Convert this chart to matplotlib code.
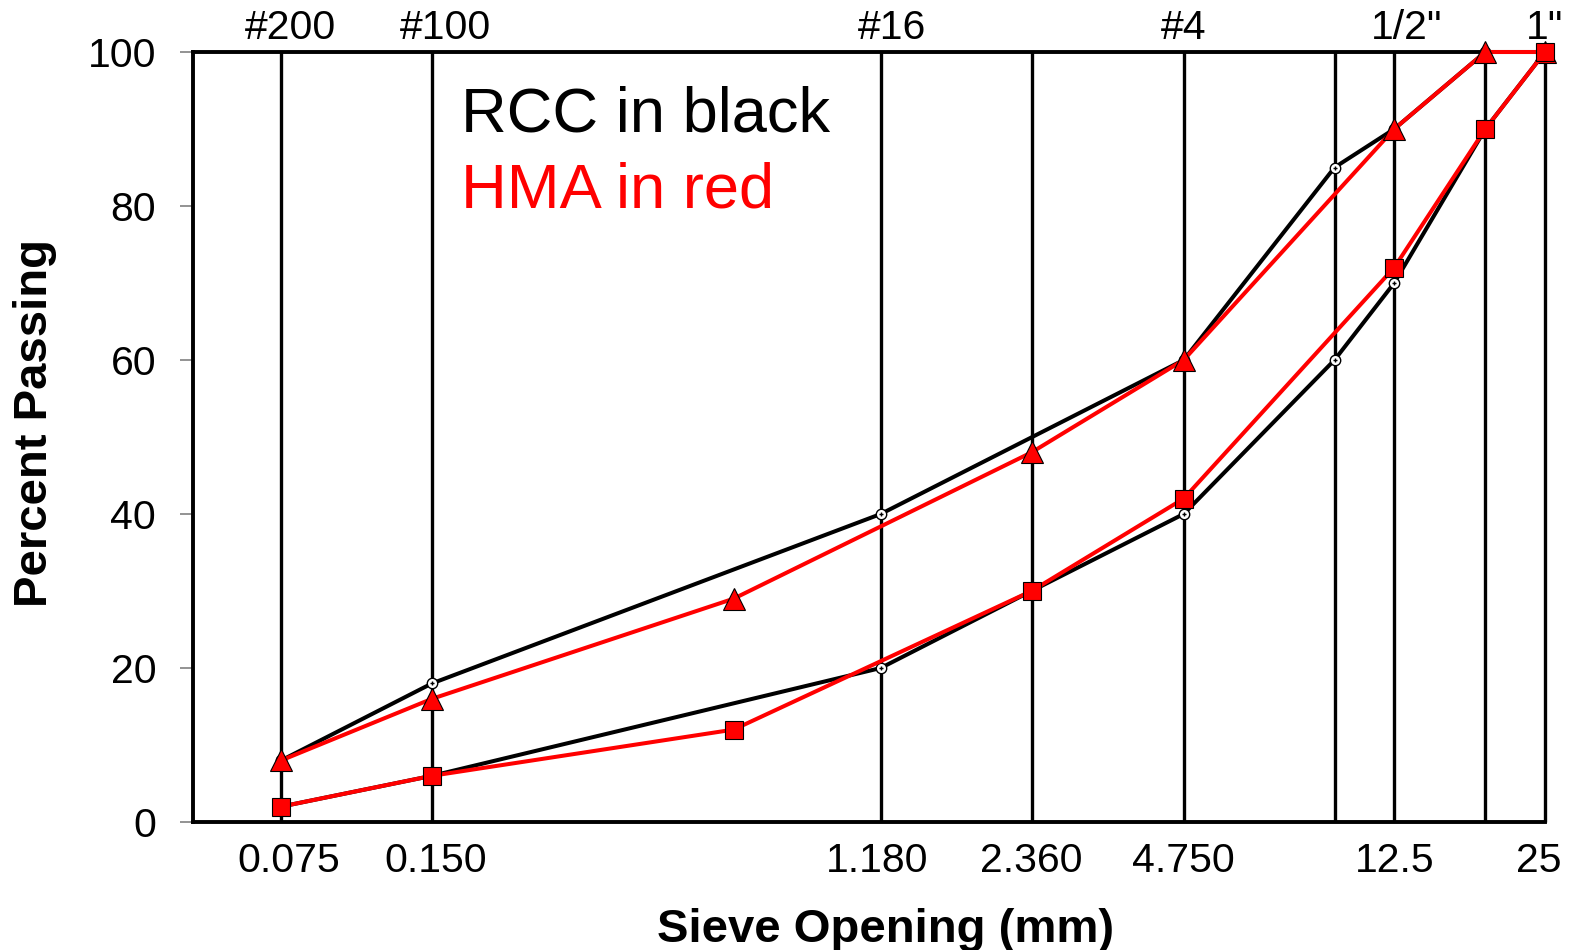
import matplotlib
matplotlib.use("Agg")
import matplotlib.pyplot as plt
import matplotlib.transforms as mtransforms

plt.rcParams['font.family'] = ['Liberation Sans', 'DejaVu Sans']

# ---------------- data ----------------
sieve_sizes = [0.075, 0.15, 1.18, 2.36, 4.75, 9.5, 12.5, 19, 25]

rcc_x = [0.075, 0.15, 1.18, 4.75, 9.5, 12.5, 19, 25]
rcc_upper = [8, 18, 40, 60, 85, 90, 100, 100]
rcc_lower_x = [0.075, 0.15, 1.18, 2.36, 4.75, 9.5, 12.5, 19, 25]
rcc_lower = [2, 6, 20, 30, 40, 60, 70, 90, 100]

hma_x = [0.075, 0.15, 0.6, 2.36, 4.75, 12.5, 19, 25]
hma_upper = [8, 16, 29, 48, 60, 90, 100, 100]
hma_lower = [2, 6, 12, 30, 42, 72, 90, 100]

bottom_tick_vals = [0.075, 0.15, 1.18, 2.36, 4.75, 12.5, 25]
bottom_tick_labels = ['0.075', '0.150', '1.180', '2.360', '4.750', '12.5', '25']
top_tick_vals = [0.075, 0.15, 1.18, 4.75, 12.5, 25]
top_tick_labels = ['#200', '#100', '#16', '#4', '1/2"', '1"']
y_ticks = [0, 20, 40, 60, 80, 100]

# ---------------- styling offsets (pixels) ----------------
bottom_dx = [8, 4, -4, 0, 0, 0, -6]
top_dx = [9, 13, 11, 0, 12, 0]

fig = plt.figure(figsize=(15.77, 9.5), dpi=100)
ax = fig.add_axes([193/1577, 1-822/950, (1545-193)/1577, 770/950])

ax.set_xscale('log')
ax.set_xlim(0.05, 25)
ax.set_ylim(0, 100)

# vertical sieve lines
ax.vlines(sieve_sizes, 0, 100, colors='black', lw=2.4, clip_on=False, zorder=1.5)

# RCC lines (black)
ax.plot(rcc_x, rcc_upper, color='black', lw=2.9, zorder=2, clip_on=False)
ax.plot(rcc_lower_x, rcc_lower, color='black', lw=2.9, zorder=2, clip_on=False)
for xs, ys in [(rcc_x, rcc_upper), (rcc_lower_x, rcc_lower)]:
    ax.plot(xs, ys, ls='none', marker='o', ms=7.5, mfc='white', mec='black',
            mew=1.0, zorder=2.5, clip_on=False)
    ax.plot(xs, ys, ls='none', marker='+', ms=3.5, mec='black', mew=1.0,
            zorder=2.6, clip_on=False)

# HMA lines (red)
ax.plot(hma_x, hma_upper, color='#ff0000', lw=2.9, zorder=3, clip_on=False,
        marker='^', ms=15.5, mfc='#ff0000', mec='black', mew=0.8)
ax.plot(hma_x, hma_lower, color='#ff0000', lw=2.9, zorder=3, clip_on=False,
        marker='s', ms=13, mfc='#ff0000', mec='black', mew=0.8)

# spines
for s in ['left', 'bottom', 'top']:
    ax.spines[s].set_linewidth(2.8)
    ax.spines[s].set_color('black')
ax.spines['right'].set_visible(False)

# y ticks
ax.set_yticks(y_ticks)
ax.set_yticklabels([str(v) for v in y_ticks])
ax.tick_params(axis='y', direction='out', length=9.5, width=1.2, color='#808080',
               labelsize=29.5, pad=17)
ax.minorticks_off()
ax.set_xticks([])

# bottom labels
blend = mtransforms.blended_transform_factory(ax.transData, ax.transAxes)
for v, lab, dx in zip(bottom_tick_vals, bottom_tick_labels, bottom_dx):
    tr = blend + mtransforms.ScaledTranslation(dx/100, 0, fig.dpi_scale_trans)
    ax.text(v, (822-872)/770, lab, transform=tr, ha='center', va='baseline',
            fontsize=29.5, clip_on=False)

# top labels
for v, lab, dx in zip(top_tick_vals, top_tick_labels, top_dx):
    tr = blend + mtransforms.ScaledTranslation(dx/100, 0, fig.dpi_scale_trans)
    ax.text(v, (822-39)/770, lab, transform=tr, ha='center', va='baseline',
            fontsize=29.5, clip_on=False)

# annotation texts
ax.text((461-193)/1352, (822-132)/770, 'RCC in black', transform=ax.transAxes,
        ha='left', va='baseline', fontsize=45.5, color='black')
ax.text((461-193)/1352, (822-208)/770, 'HMA in red', transform=ax.transAxes,
        ha='left', va='baseline', fontsize=45.5, color='#ff0000')

# axis labels
fig.text(886/1577, 1-942/950, 'Sieve Opening (mm)', ha='center', va='baseline',
         fontsize=34, fontweight='bold')
fig.text(35/1577, 1-423/950, 'Percent Passing', ha='center', va='center',
         rotation=90, fontsize=34, fontweight='bold')

fig.savefig('out.png', dpi=100)
